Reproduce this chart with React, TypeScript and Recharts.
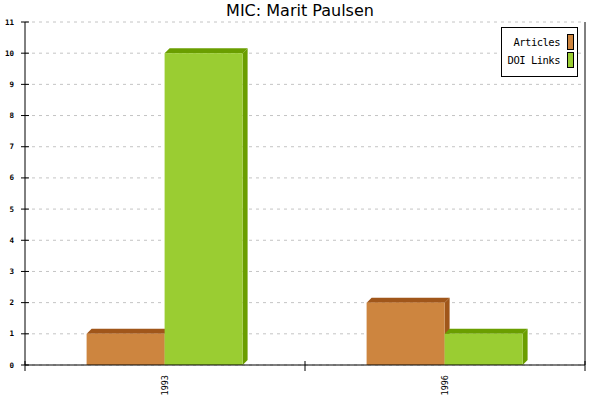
import React from 'react';
import {
  BarChart,
  Bar,
  XAxis,
  YAxis,
  CartesianGrid
} from 'recharts';

// Chart data
const years = ['1993', '1996'];
const articles = [1, 2];
const doiLinks = [10, 1];
const yTicks = [0, 1, 2, 3, 4, 5, 6, 7, 8, 9, 10, 11];

const CHART_W = 600;
const CHART_H = 400;
const MARGIN = { top: 22, right: 14, left: 0, bottom: 0 };
const Y_AXIS_W = 25;
const PLOT_W = CHART_W - MARGIN.left - MARGIN.right - Y_AXIS_W - 1;
const HALF_BAND = PLOT_W / years.length / 2;
const DEPTH = 5;

const MONO = '"DejaVu Sans Mono", "Liberation Mono", monospace';

const SERIES = [
  { key: 'articles', name: 'Articles', front: '#CD853F', dark: '#A0561A' },
  { key: 'doi', name: 'DOI Links', front: '#9ACD32', dark: '#6A9E00' }
];

const data = years.map((year, i) => ({
  year,
  articles: articles[i],
  doi: doiLinks[i]
}));

// 3D-ish bar: front face, top face, right side face
const makeBox = (front: string, dark: string) => (props: any) => {
  const { x, y, width, height } = props;
  if (!height || height <= 0) return <g />;
  const d = DEPTH;
  const top = `${x},${y} ${x + d},${y - d} ${x + width + d},${y - d} ${x + width},${y}`;
  const side = `${x + width},${y} ${x + width + d},${y - d} ${x + width + d},${y + height - d} ${x + width},${y + height}`;
  return (
    <g>
      <polygon points={top} fill={dark} />
      <polygon points={side} fill={dark} />
      <rect x={x} y={y} width={width} height={height} fill={front} />
    </g>
  );
};

const YTick = (props: any) => {
  const { x, y, payload } = props;
  return (
    <g>
      <line x1={x - 4} x2={x + 4} y1={y} y2={y} stroke="#000" />
      <text
        x={x - 11}
        y={y}
        textAnchor="end"
        dominantBaseline="central"
        fontFamily={MONO}
        fontSize={7.5}
        fontWeight="bold"
        fill="#000"
      >
        {payload.value}
      </text>
    </g>
  );
};

const XTick = (props: any) => {
  const { x, y, payload, index } = props;
  return (
    <g>
      {index === 0 && (
        <line x1={x - HALF_BAND} x2={x - HALF_BAND} y1={y - 4} y2={y + 6} stroke="#000" />
      )}
      <line x1={x + HALF_BAND} x2={x + HALF_BAND} y1={y - 4} y2={y + 6} stroke="#000" />
      <text
        x={x}
        y={y + 10}
        transform={`rotate(-90, ${x}, ${y + 10})`}
        textAnchor="end"
        dominantBaseline="central"
        fontFamily={MONO}
        fontSize={8.5}
        fill="#000"
      >
        {payload.value}
      </text>
    </g>
  );
};

const LegendBox = () => (
  <div
    style={{
      position: 'absolute',
      left: 501,
      top: 27,
      width: 70,
      border: '1px solid #000',
      background: '#fff',
      padding: '6px 3px 9px 2px',
      fontFamily: MONO,
      fontSize: 10.5,
      letterSpacing: -0.5,
      color: '#000',
      whiteSpace: 'nowrap'
    }}
  >
    {SERIES.map((s, i) => (
      <div
        key={s.key}
        style={{
          display: 'flex',
          justifyContent: 'flex-end',
          alignItems: 'center',
          height: 15,
          marginTop: i === 0 ? 0 : 3
        }}
      >
        <span>{s.name}</span>
        <span
          style={{
            display: 'inline-block',
            width: 5,
            height: 14,
            marginLeft: 7,
            background: s.front,
            border: '1px solid #000'
          }}
        />
      </div>
    ))}
  </div>
);

export default function App() {
  return (
    <div style={{ position: 'absolute', left: 0, top: 0, width: CHART_W, height: CHART_H, background: '#fff' }}>
      <BarChart
        width={CHART_W}
        height={CHART_H}
        data={data}
        margin={MARGIN}
        barCategoryGap="22%"
        barGap={0}
      >
        <CartesianGrid
          yAxisId="l"
          vertical={false}
          stroke="#c4c4c4"
          strokeDasharray="3 4"
        />
        <XAxis
          dataKey="year"
          height={35}
          axisLine={{ stroke: '#000' }}
          tickLine={false}
          tickSize={0}
          tickMargin={0}
          tick={<XTick />}
          interval={0}
        />
        <YAxis
          yAxisId="l"
          width={Y_AXIS_W}
          domain={[0, 11]}
          ticks={yTicks}
          interval={0}
          axisLine={{ stroke: '#000' }}
          tickLine={false}
          tickSize={0}
          tickMargin={0}
          tick={<YTick />}
        />
        <YAxis
          yAxisId="r"
          orientation="right"
          width={1}
          domain={[0, 11]}
          axisLine={{ stroke: '#000' }}
          tickLine={false}
          tick={false}
        />
        {SERIES.map((s) => (
          <Bar
            key={s.key}
            yAxisId="l"
            dataKey={s.key}
            name={s.name}
            fill={s.front}
            shape={makeBox(s.front, s.dark)}
            isAnimationActive={false}
          />
        ))}
      </BarChart>
      <div
        style={{
          position: 'absolute',
          left: 0,
          top: 1,
          width: CHART_W,
          textAlign: 'center',
          fontFamily: '"DejaVu Sans", sans-serif',
          fontSize: 16,
          color: '#000'
        }}
      >
        MIC: Marit Paulsen
      </div>
      <LegendBox />
    </div>
  );
}
